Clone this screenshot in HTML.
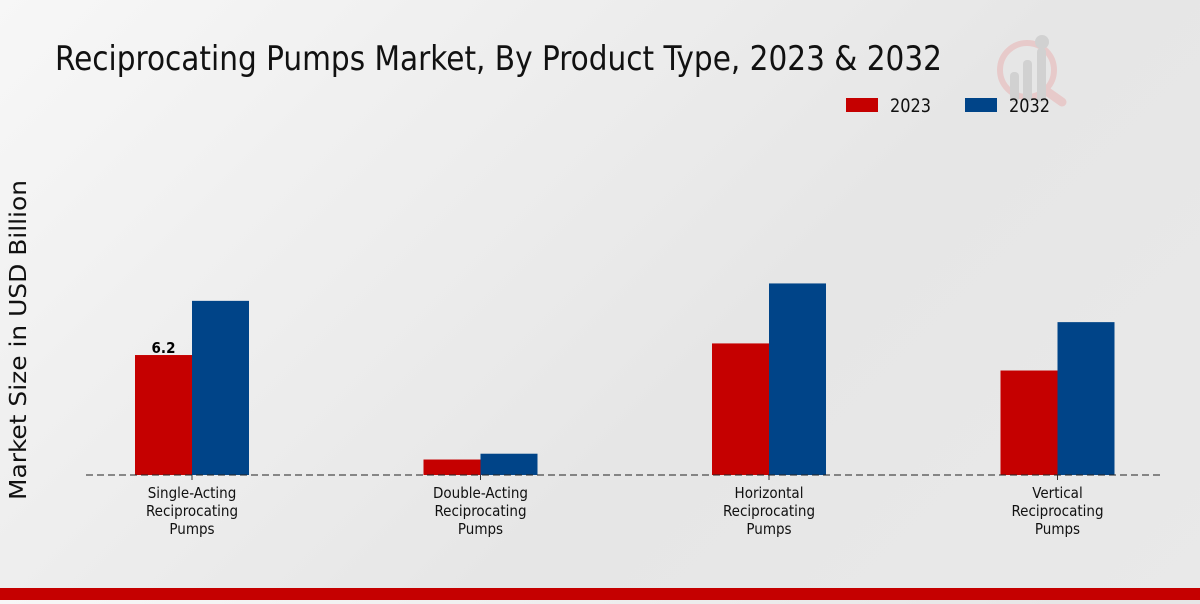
<!DOCTYPE html>
<html><head><meta charset="utf-8">
<style>
html,body{margin:0;padding:0}
body{width:1200px;height:600px;overflow:hidden;background:linear-gradient(135deg,#f7f7f7 0%,#e6e6e6 60%,#e9e9e9 100%);font-family:"DejaVu Sans Condensed","DejaVu Sans","Liberation Sans",sans-serif;font-stretch:condensed}
svg text{font-family:"DejaVu Sans Condensed","DejaVu Sans",sans-serif;font-stretch:condensed}
</style></head>
<body>
<svg width="1200" height="600">
<text x="55" y="70" font-size="34" fill="#111" textLength="887" lengthAdjust="spacingAndGlyphs">Reciprocating Pumps Market, By Product Type, 2023 &amp; 2032</text>
<g opacity="0.8">
<circle cx="1027" cy="70" r="27" fill="none" stroke="#e8c4c4" stroke-width="6"/>
<line x1="1045" y1="90" x2="1062" y2="102" stroke="#e8c4c4" stroke-width="9" stroke-linecap="round"/>
<rect x="1010" y="72" width="9" height="30" rx="4" fill="#ccc"/>
<rect x="1023" y="60" width="9" height="42" rx="4" fill="#ccc"/>
<rect x="1037" y="48" width="9" height="54" rx="4" fill="#ccc"/>
<circle cx="1042" cy="42" r="7" fill="#ccc"/>
</g>
<g>
<rect x="846" y="98" width="32" height="14" fill="#c50000"/>
<text x="890" y="112" font-size="19" fill="#111" textLength="41" lengthAdjust="spacingAndGlyphs">2023</text>
<rect x="965" y="98" width="32" height="14" fill="#004488"/>
<text x="1009" y="112" font-size="19" fill="#111" textLength="41" lengthAdjust="spacingAndGlyphs">2032</text>
</g>
<text transform="translate(26,340) rotate(-90)" text-anchor="middle" font-size="23" fill="#111" textLength="320" lengthAdjust="spacingAndGlyphs" style="font-stretch:normal">Market Size in USD Billion</text>
<g id="plot"></g>
<line x1="86" y1="475" x2="1163" y2="475" stroke="#222" stroke-dasharray="7,4"/>
<rect x="0" y="588" width="1200" height="12" fill="#c50000"/>
</svg>
<script>
const categories=[["Single-Acting","Reciprocating","Pumps"],["Double-Acting","Reciprocating","Pumps"],["Horizontal","Reciprocating","Pumps"],["Vertical","Reciprocating","Pumps"]];
const values2023=[6.2,0.8,6.8,5.4];
const values2032=[9.0,1.1,9.9,7.9];
const labels2023=["6.2","","",""];
const NS="http://www.w3.org/2000/svg";
const g=document.getElementById('plot');
const base=475,ppu=19.35,bw=57;
function xc(i){return 192+i*288.5;}
function y(v){return base-v*ppu;}
categories.forEach((c,i)=>{
  [[values2023,"#c50000",-bw,"2023"],[values2032,"#004488",0,"2032"]].forEach(s=>{
    const r=document.createElementNS(NS,'rect');
    r.setAttribute('x',xc(i)+s[2]);r.setAttribute('y',y(s[0][i]));
    r.setAttribute('width',bw);r.setAttribute('height',base-y(s[0][i]));
    r.setAttribute('fill',s[1]);
    
    
    g.appendChild(r);
  });
  if(labels2023[i]){
    const t=document.createElementNS(NS,'text');
    t.setAttribute('x',xc(i)-bw/2);t.setAttribute('y',y(values2023[i])-2);
    t.setAttribute('text-anchor','middle');t.setAttribute('font-size','15');t.setAttribute('font-weight','bold');
    t.textContent=labels2023[i];
    
    
    g.appendChild(t);
  }
  const tk=document.createElementNS(NS,'line');
  tk.setAttribute('x1',xc(i));tk.setAttribute('x2',xc(i));tk.setAttribute('y1',base);tk.setAttribute('y2',base+5);tk.setAttribute('stroke','#333');
  
  
  g.appendChild(tk);
  c.forEach((line,j)=>{
    const t=document.createElementNS(NS,'text');
    t.setAttribute('x',xc(i));t.setAttribute('y',498+j*18);
    t.setAttribute('text-anchor','middle');t.setAttribute('font-size','15');t.setAttribute('fill','#111');
    t.textContent=line;
    
    
    g.appendChild(t);
  });
});
</script>
</body></html>
